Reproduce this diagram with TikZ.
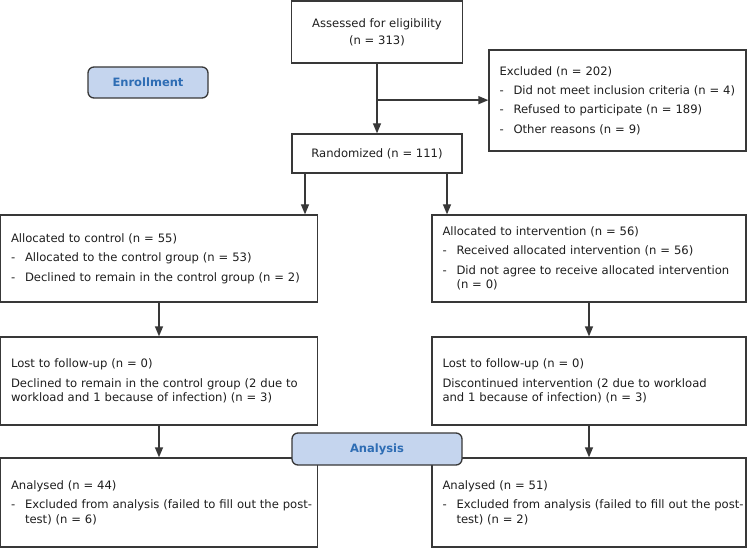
\documentclass[tikz,border=0pt]{standalone}
\usepackage{fontspec}
\setmainfont{DejaVu Sans}
\usetikzlibrary{arrows.meta}
\definecolor{boxc}{HTML}{383838}
\definecolor{txt}{HTML}{1E1E1E}
\definecolor{pillfill}{HTML}{C5D5EE}
\definecolor{pilltxt}{HTML}{2E6DB4}
\newcommand\dashitem{\makebox[14pt][l]{-}}
\newcommand\contind{\hspace*{14pt}}
\begin{document}
\begin{tikzpicture}[x=1pt,y=-1pt,
 box/.style={draw=boxc, line width=1.3pt, fill=white, rectangle, inner xsep=10pt, inner ysep=0pt, align=left, text=txt, font=\fontsize{11.6}{14.5}\selectfont},
 cbox/.style={box, align=center},
 pill/.style={draw=boxc, line width=1.3pt, fill=pillfill, rounded corners=6pt, text=pilltxt, inner sep=0pt, font=\fontsize{11.5}{14}\selectfont\bfseries},
 arr/.style={draw=boxc, line width=1.3pt, -{Triangle[length=10pt,width=8pt]}},
]
\useasboundingbox (0,0) rectangle (750,548);
\fill[white] (0,0) rectangle (750,548);

\node[cbox, minimum width=171pt, minimum height=62pt] (assess) at (377,32) {Assessed for eligibility\\[2.5pt](n = 313)};
\node[box, minimum width=257pt, text width=236pt, minimum height=101pt] (excl) at (617.5,100.5)
 {\mbox{Excluded (n = 202)}\\[4.8pt]
  \mbox{\dashitem Did not meet inclusion criteria (n = 4)}\\[4.8pt]
  \mbox{\dashitem Refused to participate (n = 189)}\\[4.8pt]
  \mbox{\dashitem Other reasons (n = 9)}};
\node[pill, minimum width=120pt, minimum height=31pt] (enroll) at (148,82.5) {Enrollment};
\node[cbox, minimum width=170pt, minimum height=39pt] (rand) at (377,153.5) {Randomized (n = 111)};

\node[box, minimum width=317pt, text width=296pt, minimum height=87pt] (ctl) at (159,258.5)
 {\mbox{Allocated to control (n = 55)}\\[4.8pt]
  \mbox{\dashitem Allocated to the control group (n = 53)}\\[4.8pt]
  \mbox{\dashitem Declined to remain in the control group (n = 2)}};
\node[box, minimum width=314pt, text width=293pt, minimum height=87pt] (intv) at (589,258.5)
 {\mbox{Allocated to intervention (n = 56)}\\[4.8pt]
  \mbox{\dashitem Received allocated intervention (n = 56)}\\[4.8pt]
  \mbox{\dashitem Did not agree to receive allocated intervention}\\
  \mbox{\contind(n = 0)}};

\node[box, minimum width=317pt, text width=296pt, minimum height=88pt] (lostc) at (159,381)
 {\mbox{Lost to follow-up (n = 0)}\\[4.8pt]
  \mbox{Declined to remain in the control group (2 due to}\\
  \mbox{workload and 1 because of infection) (n = 3)}};
\node[box, minimum width=314pt, text width=293pt, minimum height=88pt] (losti) at (589,381)
 {\mbox{Lost to follow-up (n = 0)}\\[4.8pt]
  \mbox{Discontinued intervention (2 due to workload}\\
  \mbox{and 1 because of infection) (n = 3)}};

\node[box, minimum width=317pt, text width=296pt, minimum height=89pt] (anac) at (159,502.5)
 {\mbox{Analysed (n = 44)}\\[4.8pt]
  \mbox{\dashitem Excluded from analysis (failed to fill out the post-}\\
  \mbox{\contind test) (n = 6)}};
\node[box, minimum width=314pt, text width=293pt, minimum height=89pt] (anai) at (589,502.5)
 {\mbox{Analysed (n = 51)}\\[4.8pt]
  \mbox{\dashitem Excluded from analysis (failed to fill out the post-}\\
  \mbox{\contind test) (n = 2)}};

\node[pill, minimum width=170pt, minimum height=32pt] (analysis) at (377,449) {Analysis};

\coordinate (br) at ([yshift=-36.5pt]assess.south);
\draw[arr] (assess) -- (rand);
\draw[arr] (br) -- (br -| excl.west);
\draw[arr] ([xshift=-72pt]rand.south) -- ([xshift=-72pt]rand.south |- ctl.north);
\draw[arr] ([xshift=70pt]rand.south) -- ([xshift=70pt]rand.south |- intv.north);
\draw[arr] (ctl) -- (lostc);
\draw[arr] (intv) -- (losti);
\draw[arr] (lostc) -- (anac);
\draw[arr] (losti) -- (anai);
\end{tikzpicture}
\end{document}
